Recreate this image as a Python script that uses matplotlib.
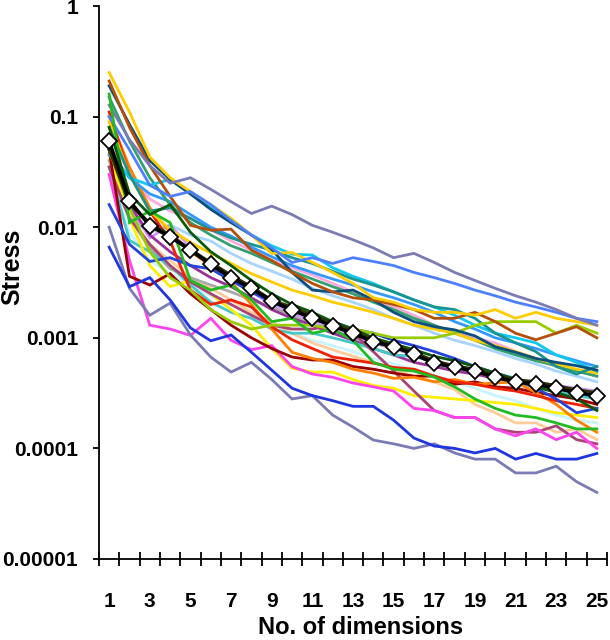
import matplotlib
matplotlib.use("Agg")
import matplotlib.pyplot as plt
from matplotlib.ticker import FixedLocator, NullFormatter

plt.rcParams["font.family"] = ["Liberation Sans", "DejaVu Sans"]
plt.rcParams["font.weight"] = "bold"

dims = list(range(1, 26))

# individual stress curves
slate_top = [0.127, 0.062, 0.036, 0.025, 0.028, 0.022, 0.017, 0.0133, 0.0155, 0.013, 0.0104, 0.009, 0.0077,
             0.0065, 0.0053, 0.0058, 0.0048, 0.0039, 0.0033, 0.0028, 0.0024, 0.0021, 0.0018, 0.0015, 0.0013]
cornflower = [0.10, 0.05, 0.024, 0.019, 0.021, 0.016, 0.0115, 0.0085, 0.0065, 0.0048, 0.0053, 0.0047, 0.0053,
              0.0049, 0.0045, 0.0039, 0.0035, 0.0031, 0.0027, 0.0024, 0.0021, 0.0019, 0.0017, 0.0015, 0.0014]
slate_low = [0.0100, 0.0028, 0.0016, 0.00206, 0.00106, 0.00067, 0.00049, 0.0006, 0.00042, 0.00028, 0.0003,
             0.0002, 0.000156, 0.000119, 0.00011, 0.0001, 0.00011, 0.000091, 0.00008, 0.00008, 0.00006,
             0.00006, 0.000069, 0.00005, 0.00004]
blue_low = [0.0066, 0.0029, 0.0035, 0.0022, 0.00123, 0.00094, 0.00106, 0.00074, 0.00051, 0.00035, 0.0003,
            0.00027, 0.00024, 0.00024, 0.00018, 0.000124, 0.000105, 0.0001, 0.000091, 0.0001, 0.00008,
            0.00009, 0.00008, 0.00008, 0.00009]
gold = [0.25, 0.11, 0.043, 0.028, 0.021, 0.016, 0.012, 0.0085, 0.0058, 0.0059, 0.0048, 0.0039, 0.0031,
        0.0023, 0.0021, 0.0018, 0.0017, 0.0017, 0.0016, 0.0018, 0.0015, 0.0017, 0.0015, 0.0014, 0.0013]
brown = [0.21, 0.08, 0.036, 0.019, 0.0104, 0.0094, 0.0096, 0.0062, 0.005, 0.0039, 0.0031, 0.0026, 0.0023,
         0.0022, 0.002, 0.0018, 0.0015, 0.0015, 0.0017, 0.0014, 0.0011, 0.00096, 0.0011, 0.00126, 0.001]
navy = [0.19, 0.085, 0.04, 0.027, 0.02, 0.0145, 0.011, 0.0085, 0.0063, 0.0039, 0.0027, 0.0026, 0.0027,
        0.0022, 0.0017, 0.0014, 0.00126, 0.00118, 0.00104, 0.00083, 0.00074, 0.00065, 0.0006, 0.00056, 0.00051]
cyan = [0.05, 0.028, 0.024, 0.027, 0.02, 0.015, 0.0115, 0.0085, 0.0068, 0.0057, 0.0056, 0.0043, 0.0036,
        0.0031, 0.0026, 0.0022, 0.0019, 0.0016, 0.0013, 0.0011, 0.001, 0.0009, 0.0007, 0.0006, 0.0005]
teal = [0.08, 0.03, 0.014, 0.015, 0.012, 0.0095, 0.008, 0.007, 0.0062, 0.0053, 0.0047, 0.004, 0.0034,
        0.003, 0.0026, 0.0022, 0.0019, 0.0018, 0.0015, 0.0011, 0.0009, 0.00075, 0.00055, 0.00047, 0.00055]
yellowgreen = [0.05, 0.015, 0.006, 0.0035, 0.0027, 0.0018, 0.0014, 0.0012, 0.0013, 0.0013, 0.0013, 0.0012,
               0.0012, 0.0011, 0.001, 0.001, 0.001, 0.0011, 0.0013, 0.0014, 0.0014, 0.0014, 0.0011, 0.0013, 0.0011]
gold2 = [0.09, 0.03, 0.014, 0.0095, 0.0073, 0.0058, 0.0047, 0.0038, 0.0032, 0.0027, 0.0024, 0.0021, 0.0019,
         0.0017, 0.0015, 0.0013, 0.0012, 0.0011, 0.00095, 0.00085, 0.00075, 0.00065, 0.00058, 0.00052, 0.00048]
turquoise = [0.035, 0.0076, 0.006, 0.0045, 0.003, 0.0021, 0.0017, 0.0015, 0.0012, 0.0011, 0.0011, 0.001,
             0.0009, 0.0008, 0.0007, 0.00068, 0.0006, 0.00056, 0.00052, 0.00048, 0.00043, 0.00038, 0.00033,
             0.0003, 0.00028]
darkgreen = [0.08, 0.02, 0.013, 0.016, 0.009, 0.006, 0.0045, 0.0033, 0.0025, 0.002, 0.0017, 0.0014, 0.0012,
             0.001, 0.00088, 0.00078, 0.00068, 0.00062, 0.00055, 0.00048, 0.00042, 0.00036, 0.00032, 0.00028,
             0.00022]
olive = [0.05, 0.016, 0.011, 0.0085, 0.0063, 0.0048, 0.0037, 0.0029, 0.0022, 0.0019, 0.0016, 0.00135,
         0.00115, 0.00096, 0.00086, 0.00074, 0.00062, 0.00056, 0.00052, 0.00046, 0.00042, 0.0004, 0.00037,
         0.00034, 0.00032]
red = [0.11, 0.03, 0.014, 0.0075, 0.0027, 0.002, 0.0022, 0.0019, 0.00126, 0.00096, 0.0008, 0.00067, 0.00063,
       0.00059, 0.00054, 0.00052, 0.00045, 0.0004, 0.00038, 0.00035, 0.00033, 0.0003, 0.00027, 0.00025, 0.00023]
green = [0.16, 0.011, 0.014, 0.011, 0.0033, 0.0027, 0.003, 0.0022, 0.0014, 0.0015, 0.0011, 0.0012, 0.00095,
         0.0006, 0.00052, 0.0005, 0.00044, 0.00036, 0.00028, 0.00023, 0.0002, 0.00019, 0.00017, 0.00015, 0.00015]
orange = [0.1, 0.035, 0.015, 0.009, 0.006, 0.0045, 0.0032, 0.002, 0.0012, 0.00074, 0.00065, 0.0006, 0.00052,
          0.00048, 0.00043, 0.00044, 0.0004, 0.00042, 0.00038, 0.00039, 0.0004, 0.00032, 0.00025, 0.00018,
          0.00014]
darkred = [0.05, 0.0036, 0.003, 0.0038, 0.0025, 0.0018, 0.0013, 0.001, 0.0008, 0.00067, 0.00063, 0.00063,
           0.00055, 0.00052, 0.00048, 0.00045, 0.00045, 0.00038, 0.0004, 0.00036, 0.00035, 0.00032, 0.0003,
           0.00028, 0.00025]
magenta = [0.03, 0.005, 0.0013, 0.0012, 0.00105, 0.0015, 0.00095, 0.00078, 0.00085, 0.00055, 0.00047,
           0.00044, 0.00039, 0.00036, 0.00033, 0.00023, 0.00022, 0.00019, 0.00019, 0.00015, 0.00013, 0.00015,
           0.00012, 0.00014, 0.0001]
mauve = [0.035, 0.012, 0.007, 0.0045, 0.0032, 0.0025, 0.002, 0.0016, 0.0013, 0.0012, 0.0012, 0.0013, 0.0011,
         0.00075, 0.0005, 0.00033, 0.00022, 0.00019, 0.00019, 0.00015, 0.00014, 0.00014, 0.00016, 0.00012,
         0.00011]
peach = [0.04, 0.013, 0.007, 0.005, 0.0035, 0.0028, 0.0022, 0.0017, 0.0014, 0.0011, 0.0009, 0.00078, 0.00068,
         0.0006, 0.00052, 0.00045, 0.0004, 0.00034, 0.00025, 0.00021, 0.00017, 0.00017, 0.00014, 0.00015, 0.00012]
yellow = [0.045, 0.012, 0.0045, 0.0029, 0.0033, 0.0025, 0.0018, 0.0013, 0.0008, 0.00053, 0.00049, 0.00049,
          0.00042, 0.00037, 0.00035, 0.0003, 0.00029, 0.00028, 0.00027, 0.00026, 0.00025, 0.00023, 0.00021,
          0.0002, 0.00019]
pink = [0.07, 0.03, 0.018, 0.014, 0.012, 0.0095, 0.0075, 0.0062, 0.005, 0.0043, 0.0037, 0.0031, 0.0026,
        0.0022, 0.0019, 0.0016, 0.0013, 0.0011, 0.001, 0.0009, 0.00075, 0.00065, 0.00055, 0.0005, 0.00045]
lavender = [0.045, 0.015, 0.008, 0.0105, 0.0065, 0.0045, 0.0035, 0.0026, 0.002, 0.0017, 0.0014, 0.0012,
            0.00105, 0.0009, 0.0008, 0.0007, 0.0006, 0.00055, 0.00048, 0.00045, 0.00042, 0.0004, 0.00037,
            0.00035, 0.00033]
purple = [0.05, 0.016, 0.0085, 0.006, 0.0045, 0.0035, 0.0029, 0.0023, 0.0018, 0.0015, 0.0013, 0.0011, 0.00095,
          0.0008, 0.0007, 0.0006, 0.00055, 0.0005, 0.00047, 0.00043, 0.0004, 0.00037, 0.00034, 0.00031, 0.00028]
gray = [0.04, 0.012, 0.0065, 0.0042, 0.0035, 0.003, 0.0026, 0.0022, 0.0019, 0.0016, 0.0013, 0.0011, 0.001,
        0.0009, 0.0008, 0.00072, 0.00062, 0.00055, 0.0005, 0.00045, 0.0004, 0.00036, 0.00034, 0.00031, 0.00029]
seagreen = [0.15, 0.06, 0.028, 0.016, 0.011, 0.0085, 0.0068, 0.0058, 0.0048, 0.004, 0.0034, 0.0029, 0.0025,
            0.0021, 0.0018, 0.0015, 0.0013, 0.0011, 0.00095, 0.0008, 0.0007, 0.00062, 0.00056, 0.0005, 0.00045]
dodger = [0.045, 0.028, 0.02, 0.017, 0.013, 0.01, 0.0083, 0.0066, 0.0054, 0.0045, 0.0039, 0.0034, 0.003,
          0.0026, 0.0023, 0.002, 0.0017, 0.0014, 0.0012, 0.001, 0.0009, 0.0008, 0.0007, 0.00062, 0.00055]
lightblue = [0.03, 0.012, 0.009, 0.0105, 0.0085, 0.0075, 0.0058, 0.0047, 0.004, 0.0034, 0.0028, 0.0024,
             0.0021, 0.0018, 0.0015, 0.0013, 0.0011, 0.00095, 0.00085, 0.00075, 0.00065, 0.00058, 0.0005,
             0.00045, 0.0004]
royal = [0.016, 0.007, 0.0049, 0.0053, 0.0045, 0.0042, 0.0033, 0.0026, 0.0021, 0.0018, 0.0016, 0.0014, 0.0012,
         0.0011, 0.00095, 0.00085, 0.00075, 0.00065, 0.00055, 0.00048, 0.00042, 0.00035, 0.00028, 0.00021,
         0.00023]
lightcyan = [0.03, 0.009, 0.005, 0.0038, 0.003, 0.0024, 0.002, 0.0016, 0.0013, 0.0011, 0.00095, 0.00085,
             0.00075, 0.00065, 0.00058, 0.00052, 0.00046, 0.0004, 0.00035, 0.0003, 0.00027, 0.00023, 0.0002,
             0.00018, 0.00017]

# average over all curves (white diamonds)
mean_stress = [0.060, 0.0173, 0.0103, 0.0082, 0.0062, 0.0046, 0.0035, 0.0028, 0.00215, 0.00178, 0.00151,
               0.00128, 0.0011, 0.00092, 0.00083, 0.00071, 0.00059, 0.00054, 0.0005, 0.00044, 0.0004, 0.00038,
               0.00035, 0.00032, 0.0003]

curves = [
    (lightcyan, "#c8f4ff"), (peach, "#ffcc99"), (lightblue, "#a8d4ff"), (gray, "#aaaaaa"),
    (pink, "#ffaadd"), (lavender, "#cc99ff"), (purple, "#993399"), (turquoise, "#44c8c8"),
    (yellow, "#ffee00"), (mauve, "#aa4477"), (magenta, "#ff44ee"), (darkred, "#990000"),
    (orange, "#ff7f00"), (red, "#ee2200"), (royal, "#2244dd"), (dodger, "#3399ff"),
    (seagreen, "#33a070"), (gold2, "#ffcc00"), (cyan, "#11c8ee"), (teal, "#1a9490"),
    (yellowgreen, "#99cc00"), (navy, "#0b4f7c"), (brown, "#b4500a"), (gold, "#ffcc00"),
    (cornflower, "#4d80ff"), (slate_top, "#7b7bb5"), (green, "#22bb22"), (darkgreen, "#0b5a0b"),
    (slate_low, "#7b7bb5"), (blue_low, "#1f35e0"), (olive, "#333300"),
]

fig = plt.figure(figsize=(6.1, 6.4), dpi=100)
ax = fig.add_axes([99 / 610, 1 - 559 / 640, 508 / 610, 553 / 640])

for vals, col in curves:
    ax.plot(dims, vals, color=col, lw=2.0, solid_joinstyle="miter")

ax.plot(dims, mean_stress, color="black", lw=2.6, marker="D", markersize=8.5,
        markerfacecolor="white", markeredgecolor="black", markeredgewidth=1.3, zorder=5)

ax.set_yscale("log")
ax.set_ylim(1e-5, 1)
ax.set_xlim(0.5, 25.5)

ax.set_yticks([1e-5, 1e-4, 1e-3, 1e-2, 1e-1, 1])
ax.set_yticklabels(["0.00001", "0.0001", "0.001", "0.01", "0.1", "1"])
ax.yaxis.set_minor_locator(FixedLocator([]))
ax.tick_params(axis="y", which="major", direction="out", length=4, width=1.3, pad=11,
               labelsize=15)

ax.set_xticks(list(range(1, 26, 2)))
ax.set_xticklabels([str(d) for d in range(1, 26, 2)])
ax.xaxis.set_minor_locator(FixedLocator([d + 0.5 for d in range(0, 26)]))
ax.xaxis.set_minor_formatter(NullFormatter())
ax.tick_params(axis="x", which="major", length=0, pad=24, labelsize=15)
ax.tick_params(axis="x", which="minor", direction="inout", length=10, width=1.3)

for side in ("top", "right"):
    ax.spines[side].set_visible(False)
for side in ("left", "bottom"):
    ax.spines[side].set_linewidth(1.3)
ax.patch.set_visible(False)

fig.text(12 / 610, 1 - 267 / 640, "Stress", rotation=90, ha="center", va="center",
         fontsize=18, fontweight="bold")
fig.text(361 / 610, 1 - 628 / 640, "No. of dimensions", ha="center", va="center",
         fontsize=17, fontweight="bold")

fig.savefig("out.png", dpi=100)
